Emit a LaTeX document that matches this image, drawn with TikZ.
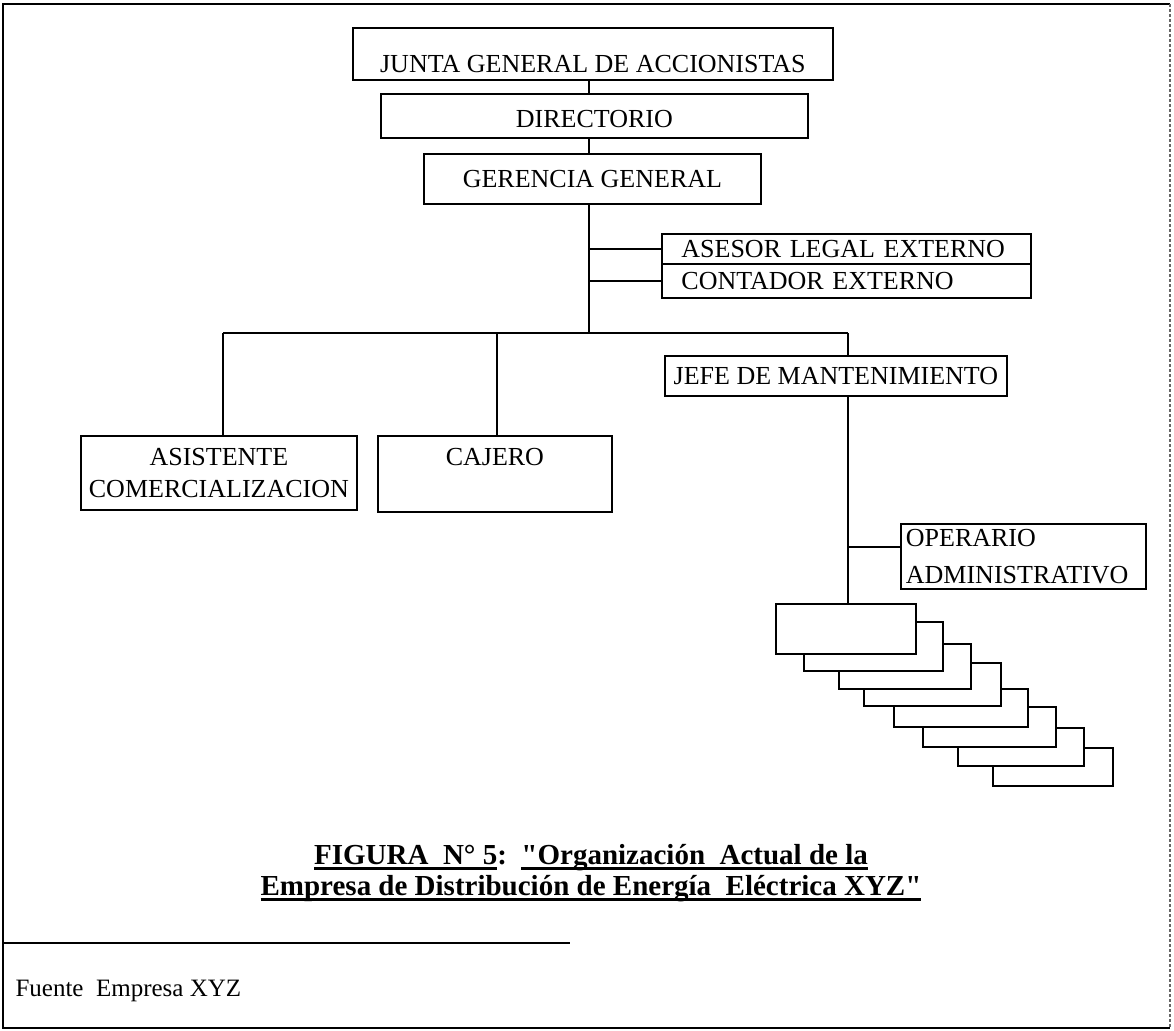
\documentclass[tikz,border=0pt]{standalone}
\usepackage{fontspec}
\setmainfont{Liberation Serif}
\newcommand{\ulx}[1]{\setbox0\hbox{#1}\rlap{\vrule height -3pt depth 5.5pt width \wd0}\box0}
\begin{document}
\begin{tikzpicture}[x=1pt,y=-1pt,
  every node/.style={font=\fontsize{26}{32}\selectfont},
  box/.style={draw, line width=1.8pt, fill=white, inner sep=0pt, anchor=north west},
  conn/.style={line width=1.8pt},
  frame/.style={line width=2pt}]
\useasboundingbox (0,0) rectangle (1174,1030);
\coordinate (fTL) at (3,4);
\coordinate (fTR) at (1170,4);
\coordinate (fBL) at (3,1028);
\coordinate (fBR) at (1170,1028);
\draw[frame] (fTR) -- (fTL) -- (fBL) -- (fBR);
\draw[line width=1.2pt, densely dashed, black!60] (fTR) -- (fBR);

% top chain
\node[box, minimum width=480, minimum height=52, text height=37pt, text depth=0pt] (junta) at (352,27) {JUNTA GENERAL DE ACCIONISTAS};
\node[box, minimum width=427, minimum height=44, text height=23pt, text depth=0pt] (directorio) at (380,93) {DIRECTORIO};
\node[box, minimum width=337, minimum height=50] (gerencia) at (423,153) {GERENCIA GENERAL};

% staff boxes
\node[box, minimum width=369, minimum height=30, text width=330pt, align=left, inner xsep=19pt] (asesor) at (661,233) {ASESOR LEGAL EXTERNO};
\node[box, minimum width=369, minimum height=34, text width=330pt, align=left, inner xsep=19pt] (contador) at (661,263) {CONTADOR EXTERNO};

% second level
\node[box, minimum width=276, minimum height=74, align=center] (asistente) at (80,435) {ASISTENTE\\COMERCIALIZACION};
\node[box, minimum width=234, minimum height=76, text height=17pt, text depth=34pt, text width=214pt, align=center, inner xsep=0pt] (cajero) at (377,435) {CAJERO\hspace*{18pt}};
\node[box, minimum width=342, minimum height=40] (jefe) at (664,355) {JEFE DE MANTENIMIENTO};
\node[box, minimum width=245, minimum height=65, text width=235pt, align=left, inner xsep=5pt] (operario) at (900,523) {OPERARIO\\[5pt]ADMINISTRATIVO};

% stacked boxes (back to front)
\node[box, minimum width=120, minimum height=38] (st8) at (992,747) {};
\node[box, minimum width=126, minimum height=38] (st7) at (957,727) {};
\node[box, minimum width=133, minimum height=40] (st6) at (922,706) {};
\node[box, minimum width=134, minimum height=38] (st5) at (893,688) {};
\node[box, minimum width=137, minimum height=43] (st4) at (863,662) {};
\node[box, minimum width=132, minimum height=45] (st3) at (838,643) {};
\node[box, minimum width=139, minimum height=49] (st2) at (803,621) {};
\node[box, minimum width=140, minimum height=50] (st1) at (775,603) {};

% coordinates of the buses
\coordinate (trunk) at (589,333);
\coordinate (bL) at (223,333);
\coordinate (bM) at (497,333);
\coordinate (bR) at (848,333);
\coordinate (op) at (848,547);
\coordinate (gx) at (589,0);

% connectors
\draw[conn] (gx |- junta.south) -- (gx |- directorio.north);
\draw[conn] (gx |- directorio.south) -- (gx |- gerencia.north);
\draw[conn] (gx |- gerencia.south) -- (trunk);
\draw[conn] (trunk |- asesor.west) -- (asesor.west);
\draw[conn] (trunk |- contador.west) -- (contador.west);
\draw[conn] (bL) -- (bR);
\draw[conn] (bL) -- (bL |- asistente.north);
\draw[conn] (bM) -- (bM |- cajero.north);
\draw[conn] (bR) -- (bR |- jefe.north);
\draw[conn] (bR |- jefe.south) -- (bR |- st1.north);
\draw[conn] (op) -- (op -| operario.west);

% caption
\node[font=\bfseries\fontsize{29}{31}\selectfont, align=center, anchor=base] (caption) at (591,895)
  {\ulx{FIGURA\ \ N° 5}:\ \ \ulx{\textquotedbl Organización\ \ Actual de la}\\
   \ulx{Empresa de Distribución de Energía\ \ Eléctrica XYZ\textquotedbl}};

% source
\coordinate (sepL) at (3,943);
\coordinate (sepR) at (570,943);
\draw[conn] (sepL) -- (sepR);
\node[anchor=base west, font=\fontsize{25}{28}\selectfont] (fuente) at (12,996) {Fuente\ \ Empresa XYZ};
\end{tikzpicture}
\end{document}
